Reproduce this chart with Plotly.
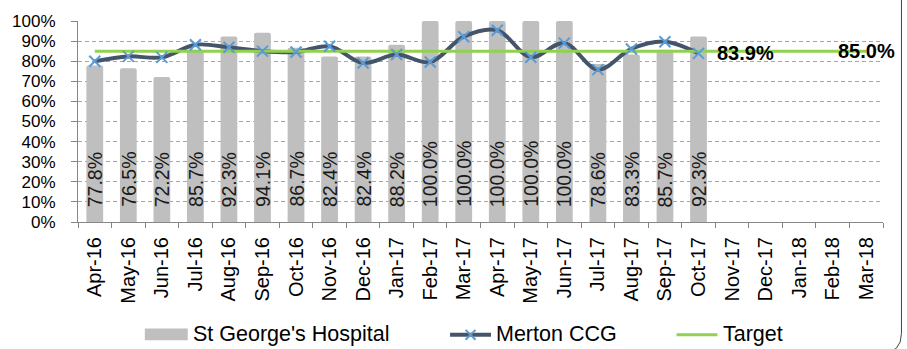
import plotly.graph_objects as go

# Reporting months (financial years 2016/17 and 2017/18)
months = ["Apr-16", "May-16", "Jun-16", "Jul-16", "Aug-16", "Sep-16", "Oct-16",
          "Nov-16", "Dec-16", "Jan-17", "Feb-17", "Mar-17", "Apr-17", "May-17",
          "Jun-17", "Jul-17", "Aug-17", "Sep-17", "Oct-17", "Nov-17", "Dec-17",
          "Jan-18", "Feb-18", "Mar-18"]

# St George's Hospital performance (%)
hospital = [77.8, 76.5, 72.2, 85.7, 92.3, 94.1, 86.7, 82.4, 82.4, 88.2, 100.0,
            100.0, 100.0, 100.0, 100.0, 78.6, 83.3, 85.7, 92.3]

# Merton CCG performance (%)
merton = [80.0, 82.4, 81.9, 88.2, 86.9, 85.0, 84.6, 87.4, 79.1, 83.3, 79.6,
          92.2, 95.4, 82.0, 89.0, 75.8, 86.1, 89.7, 83.9]

# Target (%)
target = [85.0] * len(months)

y_ticks = list(range(0, 101, 10))

W, H = 907, 349
ML, MR, MT, MB = 76, 24, 18, 127
PW, PH = W - ML - MR, H - MT - MB

BAR_GREY = "#BFBFBF"
NAVY = "#44546A"
BLUE = "#5B9BD5"
GREEN = "#92D050"
AXIS = "#868686"
FONT = "Arial, Liberation Sans, sans-serif"


def px(x):
    return (x - ML) / PW


def py(y):
    return (H - MB - y) / PH


fig = go.Figure()

fig.add_trace(go.Bar(
    x=months[:len(hospital)], y=hospital, name="St George's Hospital",
    marker=dict(color=BAR_GREY, line=dict(width=0), cornerradius=2),
    showlegend=False, hoverinfo="x+y",
))

fig.add_trace(go.Scatter(
    x=months[:len(merton)], y=merton, name="Merton CCG", mode="lines",
    line=dict(color=NAVY, width=4, shape="spline", smoothing=1.0),
    showlegend=False,
))

fig.add_trace(go.Scatter(
    x=months, y=target, name="Target", mode="lines",
    line=dict(color=GREEN, width=3), showlegend=False,
))

fig.add_trace(go.Scatter(
    x=months[:len(merton)], y=merton, name="Merton CCG", mode="markers",
    marker=dict(symbol="x-thin", size=11, line=dict(color=BLUE, width=2)),
    showlegend=False,
))

annotations = []
# value labels at the base of each bar
for m, v in zip(months, hospital):
    annotations.append(dict(
        x=m, y=0, xref="x", yref="y", text=f"{v:.1f}%", textangle=-90,
        showarrow=False, xanchor="center", yanchor="bottom", yshift=13,
        font=dict(family=FONT, size=19.5, color="#1A1A1A"),
    ))

# latest Merton value and the target value
annotations.append(dict(
    x=months[len(merton) - 1], y=merton[-1], xref="x", yref="y",
    text=f"<b>{merton[-1]:.1f}%</b>", showarrow=False, xanchor="left",
    yanchor="middle", xshift=16,
    font=dict(family=FONT, size=20, color="#000000"),
))
annotations.append(dict(
    x=months[-1], y=target[-1], xref="x", yref="y",
    text=f"<b>{target[-1]:.1f}%</b>", showarrow=False, xanchor="center",
    yanchor="middle", font=dict(family=FONT, size=20, color="#000000"),
))

# legend text
legend_y = 336
for label, x0 in [("St George's Hospital", 189), ("Merton CCG", 493), ("Target", 721)]:
    annotations.append(dict(
        x=px(x0), y=py(legend_y), xref="paper", yref="paper", text=label,
        showarrow=False, xanchor="left", yanchor="middle",
        font=dict(family=FONT, size=21.5, color="#000000"),
    ))

shapes = []
# legend symbols
shapes.append(dict(type="rect", xref="paper", yref="paper",
                   x0=px(143), x1=px(186), y0=py(342), y1=py(330),
                   fillcolor=BAR_GREY, line=dict(width=0)))
shapes.append(dict(type="line", xref="paper", yref="paper",
                   x0=px(449), x1=px(490), y0=py(336.5), y1=py(336.5),
                   line=dict(color=NAVY, width=4)))
cx, cy, r = 469.5, 336.5, 5
shapes.append(dict(type="path", xref="paper", yref="paper",
                   path=(f"M{px(cx - r)},{py(cy - r)} L{px(cx + r)},{py(cy + r)} "
                         f"M{px(cx - r)},{py(cy + r)} L{px(cx + r)},{py(cy - r)}"),
                   line=dict(color=BLUE, width=2)))
shapes.append(dict(type="line", xref="paper", yref="paper",
                   x0=px(676), x1=px(717), y0=py(336.5), y1=py(336.5),
                   line=dict(color=GREEN, width=3)))

# chart frame (right edge with rounded corner)
bx, by_top, by_bot, rad = 901.5, -5, 355, 20
shapes.append(dict(type="path", xref="paper", yref="paper",
                   path=(f"M{px(bx)},{py(by_top)} L{px(bx)},{py(by_bot - rad)} "
                         f"Q{px(bx)},{py(by_bot)} {px(bx - rad)},{py(by_bot)}"),
                   line=dict(color="#404040", width=1)))

fig.update_layout(
    width=W, height=H,
    margin=dict(l=ML, r=MR, t=MT, b=MB, pad=0),
    paper_bgcolor="white", plot_bgcolor="white",
    bargap=0.5, showlegend=False,
    font=dict(family=FONT, color="#000000"),
    annotations=annotations, shapes=shapes,
    xaxis=dict(
        type="category", categoryorder="array", categoryarray=months,
        range=[-0.5, len(months) - 0.5],
        showline=True, linecolor=AXIS, linewidth=1,
        ticks="outside", tickson="boundaries", ticklen=5, tickcolor=AXIS,
        tickangle=-90, tickfont=dict(family=FONT, size=20, color="#000000"),
        ticklabelstandoff=6, showgrid=False,
    ),
    yaxis=dict(
        range=[0, 100], tickvals=y_ticks, ticktext=[f"{t}%" for t in y_ticks],
        showline=True, linecolor=AXIS, linewidth=1,
        ticks="outside", ticklen=6, tickcolor=AXIS,
        tickfont=dict(family=FONT, size=17, color="#000000"),
        ticklabelstandoff=12,
        showgrid=True, gridcolor="#A6A6A6", gridwidth=1, griddash="4px,3px",
        zeroline=False,
    ),
)

fig.write_html("out.html")
